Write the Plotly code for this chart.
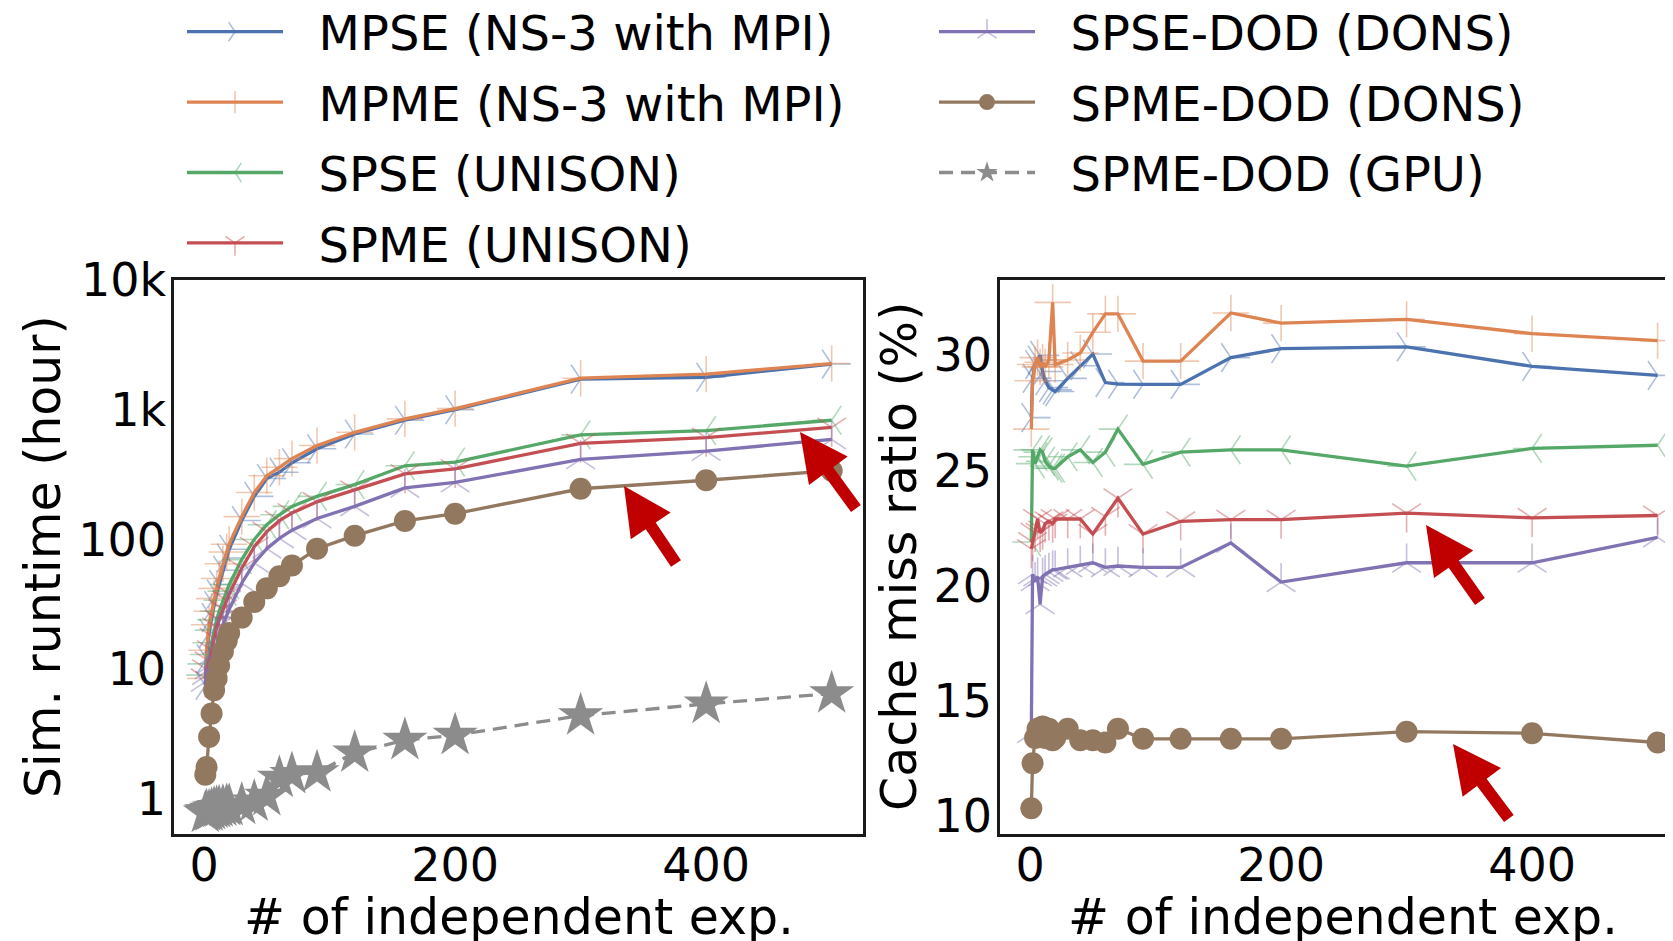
import plotly.graph_objects as go

W, H = 1673, 941
OFF = 8  # default page body margin shifts the figure by 8px

# ---------------- data ----------------
X = [1, 2, 4, 6, 8, 10, 12, 15, 18, 20, 30, 40, 50, 60, 70, 90, 120, 160, 200, 300, 400, 500]

names = ["MPSE (NS-3 with MPI)", "MPME (NS-3 with MPI)", "SPSE (UNISON)", "SPME (UNISON)",
         "SPSE-DOD (DONS)", "SPME-DOD (DONS)", "SPME-DOD (GPU)"]

# simulation runtime (hours)
rt_mpse = [7.5, 12, 19, 25, 31, 38, 45, 58, 72, 84, 140, 215, 295, 330, 390, 500, 650, 830, 1000, 1720, 1780, 2250]
rt_mpme = [8.5, 14, 22, 28, 35, 42, 50, 65, 80, 92, 150, 230, 310, 360, 420, 530, 670, 850, 1020, 1750, 1880, 2270]
rt_spse = [9, 11, 13, 16, 20, 24, 28, 34, 40, 45, 70, 100, 130, 155, 180, 215, 265, 370, 395, 640, 690, 830]
rt_spme = [8.5, 10, 11.5, 14, 17.5, 21, 24, 29, 34, 38, 60, 88, 115, 140, 160, 195, 240, 320, 350, 550, 610, 730]
rt_spse_dod = [8, 9, 10, 11, 13, 15.5, 18, 22, 26, 29, 46, 66, 85, 102, 118, 145, 180, 250, 275, 415, 480, 590]
rt_spme_dod = [1.54, 1.76, 3.0, 4.55, 6.9, 8.5, 10.7, 13.7, 16.5, 19, 25, 33, 42, 52, 63, 85, 107, 139, 158, 246, 286, 339]
rt_gpu = [0.78, 0.8, 0.8, 0.82, 0.84, 0.85, 0.86, 0.87, 0.88, 0.88, 0.9, 0.95, 1.05, 1.45, 1.55, 1.6, 2.27, 2.84, 3.1, 4.4, 5.4, 6.5]

# cache miss ratio (%)
cm_mpse = [27.3, 29.0, 29.6, 29.8, 30.0, 29.3, 28.9, 28.6, 28.5, 28.43, 29.0, 29.55, 30.06, 28.82, 28.75, 28.74, 28.74, 29.9, 30.29, 30.37, 29.52, 29.13]
cm_mpme = [26.8, 28.9, 29.6, 29.9, 29.5, 29.7, 29.5, 29.8, 32.3, 29.6, 29.8, 30.1, 31.0, 31.8, 31.8, 29.75, 29.75, 31.84, 31.4, 31.56, 30.94, 30.64]
cm_spse = [21.9, 25.9, 25.3, 25.6, 25.9, 25.8, 25.4, 25.2, 25.1, 25.1, 25.6, 25.9, 25.35, 25.8, 26.8, 25.27, 25.8, 25.9, 25.9, 25.19, 25.96, 26.1]
cm_spme = [21.6, 21.9, 22.3, 22.9, 22.3, 22.4, 22.7, 22.8, 22.7, 22.9, 22.9, 22.9, 22.25, 23.0, 23.8, 22.25, 22.8, 22.87, 22.87, 23.15, 22.95, 23.05]
cm_spse_dod = [13.6, 20.5, 20.2, 20.4, 19.2, 20.4, 20.5, 20.6, 20.7, 20.7, 20.8, 20.9, 21.0, 20.8, 20.86, 20.8, 20.8, 21.86, 20.16, 21.0, 21.0, 22.1]
cm_spme_dod = [10.35, 12.3, 13.4, 13.8, 13.5, 13.9, 13.4, 13.8, 13.3, 13.4, 13.8, 13.3, 13.3, 13.2, 13.8, 13.36, 13.36, 13.36, 13.36, 13.67, 13.6, 13.2]

y_ticks_rt = [1, 10, 100, 1000, 10000]
y_ticktext_rt = ["1", "10", "100", "1k", "10k"]
y_ticks_cm = [10, 15, 20, 25, 30]
x_ticks = [0, 200, 400]

# ---------------- styles ----------------
colors = ["#4C72B0", "#DD8452", "#55A868", "#C44E52", "#8172B3", "#937860", "#8C8C8C"]
faded = ["rgba(76,114,176,0.45)", "rgba(221,132,82,0.45)", "rgba(85,168,104,0.45)",
         "rgba(196,78,82,0.45)", "rgba(129,114,179,0.45)", "rgba(147,120,96,1)", "rgba(140,140,140,1)"]
symbols = ["y-right", "cross-thin", "y-left", "y-down", "y-up", "circle", "star"]
msizes = [24, 26, 24, 24, 24, 22, 34]

FONT = "DejaVu Sans"


def px_x(p):
    return (p - OFF) / W


def px_y(p):
    return 1 - (p - OFF) / H


fig = go.Figure()

rt_series = [rt_mpse, rt_mpme, rt_spse, rt_spme, rt_spse_dod, rt_spme_dod, rt_gpu]
cm_series = [cm_mpse, cm_mpme, cm_spse, cm_spme, cm_spse_dod, cm_spme_dod]


def marker_for(i):
    if symbols[i] in ("circle", "star"):
        return dict(symbol=symbols[i], size=msizes[i], color=colors[i], line=dict(width=0))
    return dict(symbol=symbols[i], size=msizes[i], color=faded[i], line=dict(width=1.6, color=faded[i]))


NBSP = "\u00a0\u00a0"
for i, ys in enumerate(rt_series):
    fig.add_trace(go.Scatter(
        x=X, y=ys, mode="lines+markers", name=NBSP + names[i],
        line=dict(color=colors[i], width=3.3, dash="14px,8px" if i == 6 else "solid"),
        marker=marker_for(i), xaxis="x", yaxis="y",
        legend="legend" if i < 4 else "legend2", legendgroup=names[i],
    ))
for i, ys in enumerate(cm_series):
    fig.add_trace(go.Scatter(
        x=X, y=ys, mode="lines+markers", name=names[i], showlegend=False,
        line=dict(color=colors[i], width=3.3),
        marker=marker_for(i), xaxis="x2", yaxis="y2",
    ))

axis_common = dict(showline=True, linecolor="#1a1a1a", linewidth=2.5, showgrid=False, zeroline=False,
                   ticks="", tickfont=dict(family=FONT, size=46, color="black"))

dom_y = [px_y(834), px_y(280)]

fig.update_layout(
    width=W, height=H,
    margin=dict(l=0, r=0, t=0, b=0, autoexpand=False),
    paper_bgcolor="white", plot_bgcolor="white",
    font=dict(family=FONT, color="black"),
    xaxis=dict(domain=[px_x(174), px_x(863)], range=[-23.95, 524.95], tickvals=x_ticks,
               mirror=True, anchor="y", ticklabelstandoff=-11, **axis_common),
    yaxis=dict(domain=dom_y, type="log", range=[-0.27, 4.0], tickvals=y_ticks_rt, ticktext=y_ticktext_rt,
               mirror=True, anchor="x", ticklabelstandoff=-4, **axis_common),
    xaxis2=dict(domain=[px_x(1000), 1.0], range=[-23.95, (W + OFF - 1030) / 1.2552], tickvals=x_ticks,
                mirror=True, anchor="y2", ticklabelstandoff=-11, **axis_common),
    yaxis2=dict(domain=dom_y, range=[9.23, 33.27], tickvals=y_ticks_cm,
                mirror=False, anchor="x2", ticklabelstandoff=-4, **axis_common),
    legend=dict(x=px_x(182), y=px_y(-6), xanchor="left", yanchor="top", bgcolor="rgba(0,0,0,0)",
                font=dict(family=FONT, size=48, color="black"), itemwidth=96,
                tracegroupgap=5, traceorder="grouped"),
    legend2=dict(x=px_x(934), y=px_y(-6), xanchor="left", yanchor="top", bgcolor="rgba(0,0,0,0)",
                 font=dict(family=FONT, size=48, color="black"), itemwidth=96,
                 tracegroupgap=5, traceorder="grouped"),
    showlegend=True,
)

# axis titles
title_font = dict(family=FONT, size=49, color="black")
fig.add_annotation(text="# of independent exp.", xref="paper", yref="paper",
                   x=px_x(518.5), y=px_y(917), xanchor="center", yanchor="middle",
                   showarrow=False, font=title_font)
fig.add_annotation(text="# of independent exp.", xref="paper", yref="paper",
                   x=px_x(1343), y=px_y(917), xanchor="center", yanchor="middle",
                   showarrow=False, font=title_font)
fig.add_annotation(text="Sim. runtime (hour)", xref="paper", yref="paper",
                   x=px_x(43), y=px_y(557), xanchor="center", yanchor="middle", textangle=-90,
                   showarrow=False, font=title_font)
fig.add_annotation(text="Cache miss ratio (%)", xref="paper", yref="paper",
                   x=px_x(899), y=px_y(557), xanchor="center", yanchor="middle", textangle=-90,
                   showarrow=False, font=title_font)

# red highlight arrows (head, tail in page pixels)
arrows = [((624, 486), (677, 565)), ((800, 432), (857, 510)),
          ((1426, 525), (1481, 603)), ((1453, 744), (1510, 820))]
for (hx, hy), (tx, ty) in arrows:
    fig.add_annotation(xref="paper", yref="paper", x=px_x(hx), y=px_y(hy),
                       ax=tx - hx, ay=ty - hy, axref="pixel", ayref="pixel",
                       showarrow=True, arrowhead=2, arrowsize=0.8, arrowwidth=12,
                       arrowcolor="#C00000", text="")

fig.write_html("out.html")
